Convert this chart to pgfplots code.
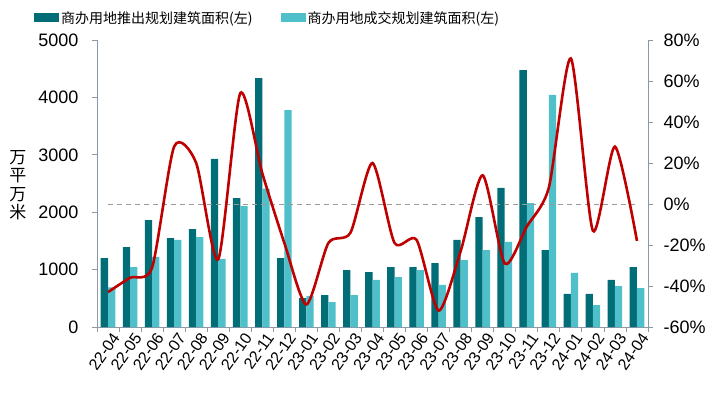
\documentclass[border=0pt]{standalone}
\usepackage{pgfplots}
\pgfplotsset{compat=1.18}
\usepackage{fontspec}
\setmainfont{Liberation Sans}
\newfontfamily\cjk{Noto Sans CJK SC}
\definecolor{darkteal}{HTML}{006D77}
\definecolor{lightteal}{HTML}{4FBFC9}
\definecolor{redline}{HTML}{BE0000}
\definecolor{axisgray}{HTML}{8C99A6}
\definecolor{dashgray}{HTML}{9A9A9A}

\pgfplotstableread{
x push deal yoy
0 1200 690 -43
1 1390 1045 -36
2 1864 1220 -31
3 1550 1516 28
4 1707 1568 20
5 2927 1185 -27
6 2247 2108 54
7 4338 2410 15
8 1202 3780 -19
9 505 540 -49
10 557 435 -19
11 993 557 -14
12 958 819 20
13 1045 871 -19
14 1045 993 -17.5
15 1115 732 -52
16 1516 1167 -23
17 1916 1341 14
18 2422 1481 -29
19 4477 2160 -11
20 1341 4042 8
21 575 941 71
22 575 383 -13
23 819 714 28
24 1045 679 -18
}\datatable

\begin{document}
\begin{tikzpicture}
\useasboundingbox (-97pt,-70pt) rectangle (623pt,327pt);
\begin{axis}[
  at={(0pt,0pt)}, anchor=south west,
  scale only axis, width=551pt, height=287pt,
  xmin=-0.5, xmax=24.5, ymin=0, ymax=5000,
  ybar=0pt, bar width=7.3pt,
  axis y line*=left, axis x line*=bottom,
  axis line style={axisgray, line width=0.8pt},
  ytick={0,1000,...,5000},
  scaled y ticks=false,
  /pgf/number format/assume math mode=true,
  /pgf/number format/set thousands separator={},
  yticklabel style={font=\fontsize{18}{18}\selectfont, xshift=-10pt},
  xtick={0,...,24},
  xticklabels={22-04,22-05,22-06,22-07,22-08,22-09,22-10,22-11,22-12,23-01,23-02,23-03,23-04,23-05,23-06,23-07,23-08,23-09,23-10,23-11,23-12,24-01,24-02,24-03,24-04},
  xticklabel style={font=\fontsize{16}{16}\selectfont, rotate=55, anchor=east, inner sep=0.5pt, yshift=-8pt, xshift=3pt},
  major x tick style={draw=none},
  minor xtick={-0.5,0.5,...,24.5},
  minor x tick style={axisgray, line width=0.8pt},
  major y tick style={axisgray, line width=0.8pt},
  tick align=outside,
  major tick length=5pt, minor tick length=5pt,
  legend columns=2,
  legend style={draw=none, fill=none, at={(-0.12,1.115)}, anchor=north west,
    font=\cjk\fontsize{14}{16}\selectfont,
    /tikz/every even column/.append style={column sep=26pt}},
  legend image code/.code={\fill[#1] (0pt,-4.5pt) rectangle (25pt,4.5pt);},
]
\addplot[fill=darkteal, draw=none] table[x=x, y=push] {\datatable};
\addlegendentry{商办用地推出规划建筑面积(左)}
\addplot[fill=lightteal, draw=none] table[x=x, y=deal] {\datatable};
\addlegendentry{商办用地成交规划建筑面积(左)}
\end{axis}
\begin{axis}[
  at={(0pt,0pt)}, anchor=south west,
  scale only axis, width=551pt, height=287pt,
  xmin=-0.5, xmax=24.5, ymin=-60, ymax=80,
  axis y line*=right, axis x line=none,
  axis line style={axisgray, line width=0.8pt},
  ytick={-60,-40,...,80},
  yticklabel={\pgfmathprintnumber{\tick}\%},
  /pgf/number format/assume math mode=true,
  yticklabel style={font=\fontsize{18}{18}\selectfont, xshift=7pt},
  major y tick style={axisgray, line width=0.8pt},
  tick align=outside, major tick length=5pt,
]
\addplot[dashgray, dashed, line width=0.9pt, dash pattern=on 5pt off 4pt] coordinates {(0,0) (24,0)};
\addplot[redline, line width=2.6pt, smooth, tension=0.42] table[x=x, y=yoy] {\datatable};
\end{axis}
\node[align=center, font=\cjk\fontsize{17}{18.5}\selectfont] at (-79pt,142pt) {万\\平\\万\\米};
\end{tikzpicture}
\end{document}
